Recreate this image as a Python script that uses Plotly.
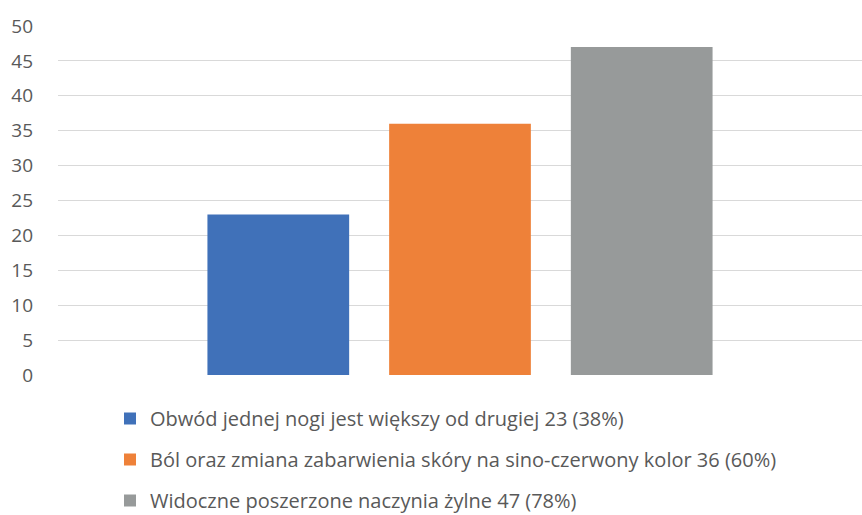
import plotly.graph_objects as go

category = [""]
series_names = [
    "Obwód jednej nogi jest większy od drugiej 23 (38%)",
    "Ból oraz zmiana zabarwienia skóry na sino-czerwony kolor 36 (60%)",
    "Widoczne poszerzone naczynia żylne 47 (78%)",
]
series_values = [23, 36, 47]
series_colors = ["#4071B9", "#EE8139", "#979A9A"]
y_ticks = [0, 5, 10, 15, 20, 25, 30, 35, 40, 45, 50]

W, H = 862, 515
fig = go.Figure()
for i, (name, val, col) in enumerate(zip(series_names, series_values, series_colors)):
    fig.add_trace(go.Bar(
        x=category, y=[val], name=name, marker_color=col,
        marker_line_width=0, legendgroup=str(i), showlegend=True,
    ))

fig.update_layout(
    width=W, height=H,
    margin=dict(l=0, r=0, t=0, b=0, autoexpand=False),
    paper_bgcolor="white", plot_bgcolor="white",
    barmode="group", bargap=0.322, bargroupgap=0.22,
    font=dict(family="Open Sans", size=20, color="#595959"),
    xaxis=dict(domain=[58 / W, 1], showticklabels=False, showgrid=False,
               zeroline=False, showline=False),
    yaxis=dict(domain=[(H - 375) / H, (H - 26) / H], range=[0, 50], tickvals=y_ticks,
               showgrid=True, gridcolor="#D9D9D9", gridwidth=1, zeroline=False,
               showline=False, ticks="", automargin=False,
               tickfont=dict(size=19, color="#595959"), ticklabelstandoff=24),
    legend=dict(orientation="v", x=110 / W, xanchor="left", y=(H - 399) / H, yanchor="top",
                traceorder="grouped", tracegroupgap=12, itemwidth=30,
                font=dict(size=20, color="#595959")),
)

fig.write_html("out.html")
